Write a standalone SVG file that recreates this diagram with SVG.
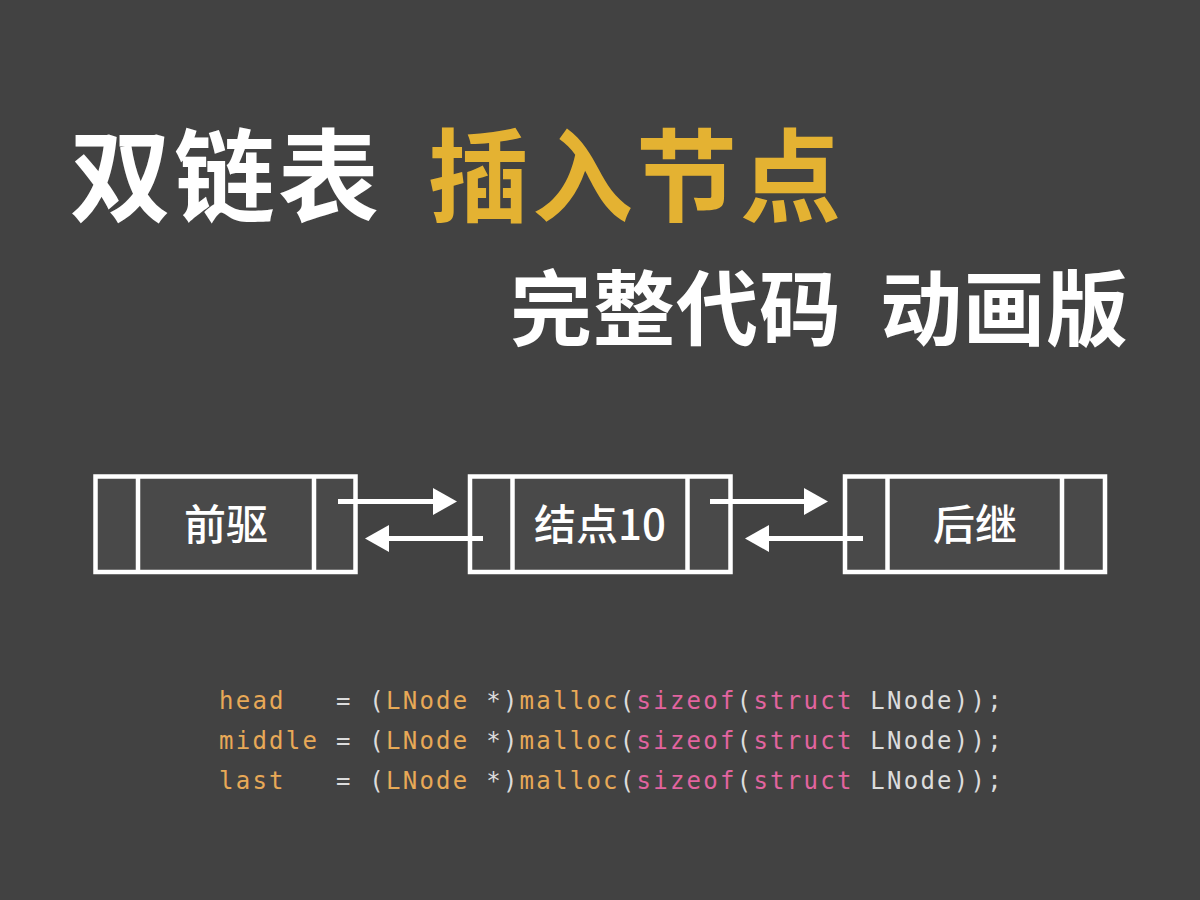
<svg xmlns="http://www.w3.org/2000/svg" width="1200" height="900" viewBox="0 0 1200 900">
<style>
.title{font-family:"Noto Sans CJK SC","Noto Sans",sans-serif;font-weight:700;}
.box{fill:#494949;stroke:#ffffff;stroke-width:4.5;}
.div{stroke:#ffffff;stroke-width:4.5;}
.lbl{font-family:"Noto Sans CJK SC","Noto Sans",sans-serif;font-size:42px;font-weight:500;fill:#ffffff;text-anchor:middle;}
.arr{stroke:#ffffff;stroke-width:5;fill:none;}
.code{font-family:"DejaVu Sans Mono","Liberation Mono",monospace;font-size:24px;letter-spacing:2.25px;fill:#dcdcdc;}
.o{fill:#e8a957;}
.p{fill:#e2649f;}
</style>
<defs>
<marker id="ah" viewBox="0 0 24 27" refX="3" refY="13.5" markerWidth="24" markerHeight="27" markerUnits="userSpaceOnUse" orient="auto">
<path d="M0,0 L24,13.5 L0,27 z" fill="#ffffff"/>
</marker>
</defs>
<rect width="1200" height="900" fill="#424242"/>
<g id="title">
<text class="title" x="70" y="214" font-size="101" letter-spacing="3" fill="#ffffff">双链表</text>
<text class="title" x="428" y="214" font-size="101" letter-spacing="3" fill="#e4b232">插入节点</text>
<text class="title" x="510" y="339" font-size="82" letter-spacing="1" fill="#ffffff">完整代码</text>
<text class="title" x="880" y="339" font-size="82" letter-spacing="1" fill="#ffffff">动画版</text>
</g>
<g id="node-prev">
<rect class="box" x="95.5" y="476.5" width="260" height="95.5"/>
<line class="div" x1="138" y1="476.5" x2="138" y2="572"/>
<line class="div" x1="314" y1="476.5" x2="314" y2="572"/>
<text class="lbl" x="226" y="540">前驱</text>
</g>
<g id="node-mid">
<rect class="box" x="470" y="476.5" width="260.5" height="95.5"/>
<line class="div" x1="512.5" y1="476.5" x2="512.5" y2="572"/>
<line class="div" x1="687.5" y1="476.5" x2="687.5" y2="572"/>
<text class="lbl" x="600" y="540">结点10</text>
</g>
<g id="node-next">
<rect class="box" x="845" y="476.5" width="260" height="95.5"/>
<line class="div" x1="887.5" y1="476.5" x2="887.5" y2="572"/>
<line class="div" x1="1062" y1="476.5" x2="1062" y2="572"/>
<text class="lbl" x="975" y="540">后继</text>
</g>
<g id="connectors">
<line class="arr" x1="338" y1="501.5" x2="436" y2="501.5" marker-end="url(#ah)"/>
<line class="arr" x1="483" y1="538.5" x2="386" y2="538.5" marker-end="url(#ah)"/>
<line class="arr" x1="710" y1="501.5" x2="807" y2="501.5" marker-end="url(#ah)"/>
<line class="arr" x1="863" y1="538.5" x2="766" y2="538.5" marker-end="url(#ah)"/>
</g>
<g id="code">
<text class="code" x="219" y="709" xml:space="preserve"><tspan class="o">head</tspan>   = (<tspan class="o">LNode</tspan> *)<tspan class="o">malloc</tspan>(<tspan class="p">sizeof</tspan>(<tspan class="p">struct</tspan> LNode));</text>
<text class="code" x="219" y="749" xml:space="preserve"><tspan class="o">middle</tspan> = (<tspan class="o">LNode</tspan> *)<tspan class="o">malloc</tspan>(<tspan class="p">sizeof</tspan>(<tspan class="p">struct</tspan> LNode));</text>
<text class="code" x="219" y="789" xml:space="preserve"><tspan class="o">last</tspan>   = (<tspan class="o">LNode</tspan> *)<tspan class="o">malloc</tspan>(<tspan class="p">sizeof</tspan>(<tspan class="p">struct</tspan> LNode));</text>
</g>
</svg>
